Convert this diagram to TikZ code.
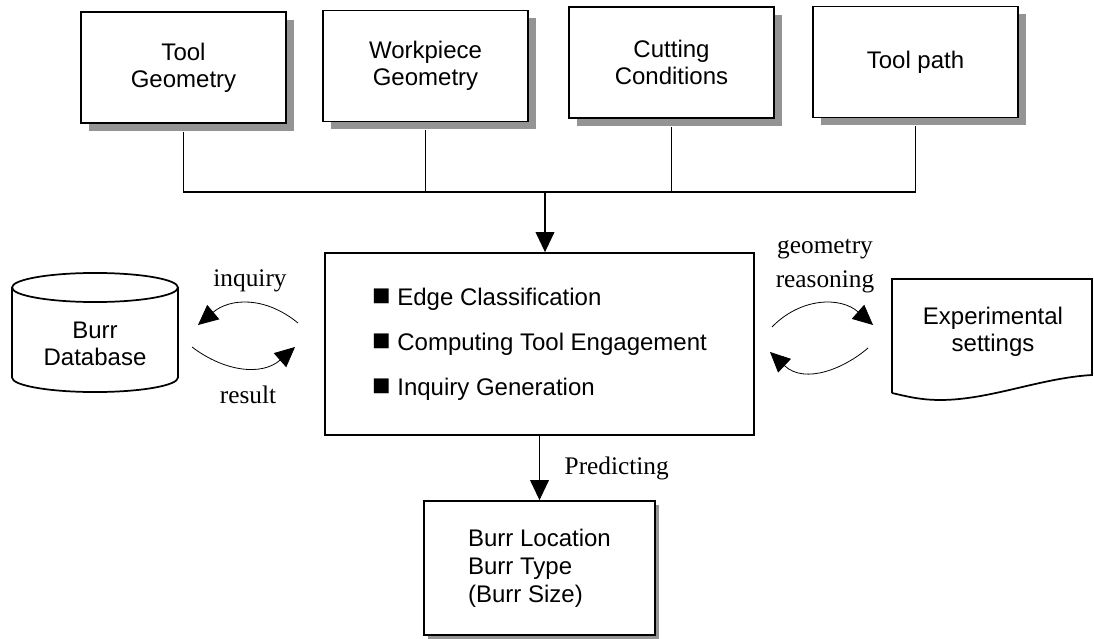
\documentclass[tikz,border=0pt]{standalone}
\usepackage{fontspec}
\setmainfont{Liberation Sans}
\newfontfamily\labelfont{Liberation Serif}
\usetikzlibrary{arrows.meta,shadows}
\newcommand\sqmark{{\fontsize{23}{20}\selectfont■}}

\begin{document}
\begin{tikzpicture}[x=0.75pt, y=-0.75pt,
    box/.style={draw, line width=1.3pt, fill=white, align=center,
        font=\fontsize{18}{20.5}\selectfont},
    topbox/.style={box, minimum width=153.75pt, minimum height=83.25pt,
        drop shadow={shadow xshift=6pt, shadow yshift=-6pt, fill=black!42, opacity=1}},
    tag/.style={font=\labelfont\fontsize{19}{25}\selectfont, align=center},
    arr/.style={-{Triangle[length=15pt,width=14pt]}, line width=1.1pt},
    wave/.style={-{Triangle[length=15pt,width=14pt]}, line width=0.6pt}]
    \useasboundingbox (0,0) rectangle (1094,638);

    % input boxes
    \node[topbox] (tg) at (183.5,67.5) {Tool\\Geometry};
    \node[topbox] (wg) at (425.5,66) {Workpiece\\Geometry};
    \node[topbox] (cc) at (671.5,62.5) {Cutting\\Conditions};
    \node[topbox] (tp) at (915.5,62) {Tool path};

    \coordinate (bus) at (545,192);
    \draw[line width=1pt] ([yshift=-6pt]tg.south) -- (tg |- bus) -- (tp |- bus) -- ([yshift=-6pt]tp.south);
    \draw[line width=1pt] ([yshift=-6pt]wg.south) -- (wg |- bus);
    \draw[line width=1pt] ([yshift=-6pt]cc.south) -- (cc |- bus);

    % main box
    \node[box, minimum width=321.75pt, minimum height=136.5pt, align=left,
        font=\fontsize{18}{33.75}\selectfont] (core) at (539.5,344)
        {\sqmark\ Edge Classification\\\sqmark\ Computing Tool Engagement\\\sqmark\ Inquiry Generation};
    \draw[arr] (bus) -- (bus |- core.north);

    \node[box, minimum width=173.25pt, minimum height=100.5pt, align=left,
        font=\fontsize{18}{21}\selectfont,
        drop shadow={shadow xshift=3pt, shadow yshift=-3pt, fill=black!42, opacity=1}]
        (res) at (539.5,568) {Burr Location\\Burr Type\\(Burr Size)};
    \draw[arr] (core.south) -- (res.north) node[tag, midway, right=15pt] (pred) {Predicting};

    % database
    \draw[line width=1.3pt] (12,287.5) -- (12,377.5)
        arc[start angle=180, end angle=360, x radius=62.25pt, y radius=10.9pt] -- (178,287.5);
    \draw[line width=1.3pt] (95,287.5) ellipse [x radius=62.25pt, y radius=10.9pt];
    \node[box, draw=none, fill=none] (db) at (95,344) {Burr\\Database};

    % experimental settings
    \draw[line width=1.3pt] (892,393) -- (892,279) -- (1092,279) -- (1092,375)
        .. controls (1040,378) and (990,400) .. (940,400)
        .. controls (920,400) and (905,396) .. (892,393);
    \node[box, draw=none, fill=none] (exp) at (993,332) {Experimental\\settings};

    \node[tag] (inq) at (250,281) {inquiry};
    \node[tag] (rsl) at (248,395) {result};
    \node[tag] (geo) at (825,266) {geometry\\reasoning};

    \coordinate (inqS) at (298,323); \coordinate (inqE) at (198,325);
    \coordinate (rslS) at (192,347); \coordinate (rslE) at (295,347);
    \coordinate (geoS) at (772,327); \coordinate (geoE) at (873,325);
    \coordinate (expS) at (868,348); \coordinate (expE) at (770,352);
    \draw[wave] (inqS) .. controls (265,296) and (230,298) .. (inqE);
    \draw[wave] (rslS) .. controls (225,372) and (262,376) .. (rslE);
    \draw[wave] (geoS) .. controls (800,298) and (840,296) .. (geoE);
    \draw[wave] (expS) .. controls (845,368) and (805,385) .. (expE);
\end{tikzpicture}
\end{document}
